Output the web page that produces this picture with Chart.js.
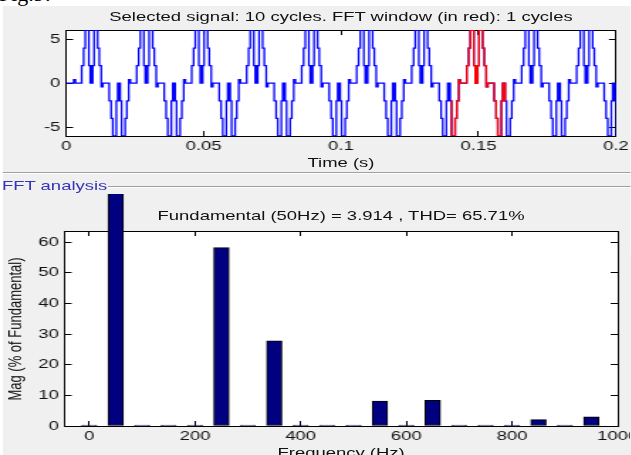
<!DOCTYPE html>
<html>
<head>
<meta charset="utf-8">
<title>FFT analysis</title>
<script src="https://cdn.jsdelivr.net/npm/chart.js@4.4.0/dist/chart.umd.min.js"></script>
<style>
  body { margin: 0; background: #fff; overflow: hidden; }
  #page { position: relative; width: 631px; height: 455px; overflow: hidden; }
  #fig { position: absolute; left: -1px; top: -17px; font: 22px "Liberation Serif", serif; line-height: 22px; color: #000; }
  /* the screenshot is stretched sideways, so the whole figure is laid out narrow and scaled */
  #figure { position: absolute; left: 0; top: 0; width: 444px; height: 455px; transform: scaleX(1.42); transform-origin: 0 0; }
  #panel { position: absolute; left: 2px; top: 6px; right: 0; bottom: 0; background: #f0f0f0; }
  .chartBox { position: absolute; left: 0; }
  .chartBox canvas { display: block; }
  .label { position: absolute; font: 13px "Liberation Sans", Arial, sans-serif; line-height: 14px; color: #111; white-space: nowrap; text-align: center; }
  #signalBox { top: 0; }
  #fftBox { top: 194px; }
  #signalTitle { left: 46.5px; width: 387.3px; top: 9.7px; }
  #timeLabel { left: 46.5px; width: 387.3px; top: 155.7px; }
  #separator { position: absolute; left: 2px; right: 0; top: 172px; border-top: 1px solid #a0a0a0; border-bottom: 1px solid #fff; }
  #fftGroup { left: 1.4px; top: 179px; text-align: left; color: #3535b8; }
  #groupLine { position: absolute; left: 76px; right: 0; top: 186px; border-top: 1px solid #a0a0a0; border-bottom: 1px solid #fff; }
  #fftTitle { left: 45.4px; width: 389.6px; top: 209px; }
  #magLabel { left: -89.4px; width: 200px; top: 321.5px; transform: rotate(-90deg); }
  #freqLabel { left: 45.4px; width: 389.6px; top: 446px; }
</style>
</head>
<body>
<div id="page">
  <div id="fig">Fig.9:</div>
  <div id="figure">
    <div id="panel"></div>
    <div class="chartBox" id="signalBox"><canvas id="signalChart" width="444" height="172"></canvas></div>
    <div class="chartBox" id="fftBox"><canvas id="fftChart" width="444" height="261"></canvas></div>
    <div class="label" id="signalTitle">Selected signal: 10 cycles. FFT window (in red): 1 cycles</div>
    <div class="label" id="timeLabel">Time (s)</div>
    <div id="separator"></div>
    <div class="label" id="fftGroup">FFT analysis</div>
    <div id="groupLine"></div>
    <div class="label" id="fftTitle">Fundamental (50Hz) = 3.914 , THD= 65.71%</div>
    <div class="label" id="magLabel">Mag (% of Fundamental)</div>
    <div class="label" id="freqLabel">Frequency (Hz)</div>
  </div>
</div>
<script>
// Tick values and labels
const timeTicks = [0, 0.05, 0.1, 0.15, 0.2];
const timeTickLabels = ["0", "0.05", "0.1", "0.15", "0.2"];
const signalTicks = [-5, 0, 5];
const signalTickLabels = ["-5", "0", "5"];
const freqTicks = [0, 200, 400, 600, 800, 1000];
const freqTickLabels = ["0", "200", "400", "600", "800", "1000"];
const magTicks = [0, 10, 20, 30, 40, 50, 60];
const magTickLabels = ["0", "10", "20", "30", "40", "50", "60"];

// Signal: start of the record, then one lobe shape (ms from lobe start, level)
const leadTimes = [0, 2.8, 3.4];
const leadLevels = [0, 0.4, 0];
const lobeOffsets = [0, 0.7, 1.3, 2.6, 3.1, 3.4, 3.7, 4.0, 4.5, 5.8, 6.4, 7.1, 7.7];
const lobeLevels = [2, 4, 6, 2, 0, 2, 0, 2, 6, 4, 2, -0.4, 0];
const posLobeStarts = [5.7, 25.7, 45.7, 65.7, 85.7, 105.7, 125.7, 145.7, 165.7, 185.7];
const negLobeStarts = [15.7, 35.7, 55.7, 75.7, 95.7, 115.7, 135.7, 155.7, 175.7, 195.7];
const windowStart = 0.14;
const windowEnd = 0.16;

// FFT bars
const harmonicFreqs = [0, 50, 100, 150, 200, 250, 300, 350, 400, 450, 500, 550, 600, 650, 700, 750, 800, 850, 900, 950];
const harmonicMags = [0.3, 100, 0.3, 0.3, 0.3, 58.2, 0.3, 27.8, 0.3, 0.3, 0.3, 8.1, 0.3, 8.4, 0.3, 0.3, 0.3, 2.1, 0.3, 3.0];

Chart.defaults.font.family = '"Liberation Sans", Arial, sans-serif';
Chart.defaults.font.size = 13;
Chart.defaults.color = "#111";

// build the signal from the lobes
const signalPoints = leadTimes.map((t, i) => ({ x: t / 1000, y: leadLevels[i] }));
const lobes = posLobeStarts.map((s) => ({ start: s, sign: 1 }))
  .concat(negLobeStarts.map((s) => ({ start: s, sign: -1 })))
  .sort((a, b) => a.start - b.start);
lobes.forEach((lobe) => {
  lobeOffsets.forEach((off, i) => {
    signalPoints.push({ x: (lobe.start + off) / 1000, y: lobe.sign * lobeLevels[i] });
  });
});

// part of the signal inside the FFT window
const before = signalPoints.filter((p) => p.x <= windowStart);
const inside = signalPoints.filter((p) => p.x > windowStart && p.x < windowEnd);
const windowPoints = [{ x: windowStart, y: before[before.length - 1].y }].concat(inside);
windowPoints.push({ x: windowEnd, y: windowPoints[windowPoints.length - 1].y });

// white plot area
const plotBackground = {
  id: "plotBackground",
  beforeDraw(chart) {
    const { ctx, chartArea } = chart;
    ctx.save();
    ctx.fillStyle = "#fff";
    ctx.fillRect(chartArea.left, chartArea.top, chartArea.right - chartArea.left, chartArea.bottom - chartArea.top);
    ctx.restore();
  },
};

// axis with a box border and inward ticks
function boxAxis(position, min, max, tickValues, tickLabels, size, padding) {
  return {
    type: "linear",
    position: position,
    axis: position === "top" || position === "bottom" ? "x" : "y",
    min: min,
    max: max,
    bounds: "data",
    offset: false,
    grid: { offset: false, drawOnChartArea: false, drawTicks: true, tickLength: -5, color: "#000", lineWidth: 1 },
    border: { display: true, color: "#000", width: 1 },
    ticks: {
      display: !!tickLabels,
      padding: padding,
      color: "#111",
      maxRotation: 0,
      autoSkip: false,
      callback: (value, index) => (tickLabels ? tickLabels[index] : ""),
    },
    afterBuildTicks: (scale) => {
      scale.ticks = tickValues.map((v) => ({ value: v }));
    },
    afterFit: (scale) => {
      if (scale.isHorizontal()) scale.height = size;
      else scale.width = size;
      scale.paddingLeft = 0;
      scale.paddingRight = 0;
      scale.paddingTop = 0;
      scale.paddingBottom = 0;
    },
  };
}

// Top: selected signal
new Chart(document.getElementById("signalChart").getContext("2d"), {
  type: "line",
  data: {
    datasets: [
      { data: windowPoints, borderColor: "#ff0000", borderWidth: 1.3, pointRadius: 0, stepped: true },
      { data: signalPoints, borderColor: "#0000ff", borderWidth: 1.3, pointRadius: 0, stepped: true },
    ],
  },
  options: {
    responsive: false,
    animation: false,
    events: [],
    layout: { padding: { top: 30, right: 10.2, left: 0, bottom: 0 } },
    scales: {
      x: boxAxis("bottom", 0, 0.2, timeTicks, timeTickLabels, 36, 8),
      y: boxAxis("left", -6, 6.05, signalTicks, signalTickLabels, 46.5, 9),
      x2: boxAxis("top", 0, 0.2, timeTicks, null, 0, 0),
      y2: boxAxis("right", -6, 6.05, signalTicks, null, 0, 0),
    },
    plugins: { legend: { display: false }, tooltip: { enabled: false } },
  },
  plugins: [plotBackground],
});

// Bottom: FFT analysis
new Chart(document.getElementById("fftChart").getContext("2d"), {
  type: "bar",
  data: {
    datasets: [
      {
        data: harmonicFreqs.map((f, i) => ({ x: f, y: harmonicMags[i] })),
        backgroundColor: "#000080",
        borderColor: "#000",
        borderWidth: 1,
        borderSkipped: false,
        barThickness: 10.8,
        clip: false,
      },
    ],
  },
  options: {
    responsive: false,
    animation: false,
    events: [],
    layout: { padding: { top: 37, right: 9, left: 0, bottom: 0 } },
    scales: {
      x: boxAxis("bottom", -47, 1000, freqTicks, freqTickLabels, 29, 8),
      y: boxAxis("left", 0, 63.6, magTicks, magTickLabels, 45.4, 9),
      x2: boxAxis("top", -47, 1000, freqTicks, null, 0, 0),
      y2: boxAxis("right", 0, 63.6, magTicks, null, 0, 0),
    },
    plugins: { legend: { display: false }, tooltip: { enabled: false } },
  },
  plugins: [plotBackground],
});
</script>
</body>
</html>
